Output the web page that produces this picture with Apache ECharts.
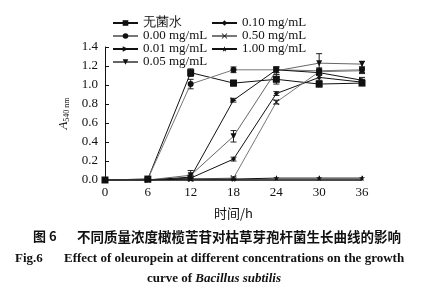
<!DOCTYPE html>
<html>
<head>
<meta charset="utf-8">
<script src="https://cdn.jsdelivr.net/npm/echarts@6/dist/echarts.min.js"></script>
<style>
html,body{margin:0;padding:0;background:#fff;}
#main{width:440px;height:301px;}
</style>
</head>
<body>
<div id="main"></div>
<script>
// 时间点 (h)
var hours = [0, 6, 12, 18, 24, 30, 36];
var names = ['无菌水', '0.00 mg/mL', '0.01 mg/mL', '0.05 mg/mL', '0.10 mg/mL', '0.50 mg/mL', '1.00 mg/mL'];

// A540 读数
var water = [0.00, 0.01, 1.13, 1.02, 1.06, 1.01, 1.02];
var c000  = [0.00, 0.01, 1.01, 1.16, 1.16, 1.15, 1.16];
var c001  = [0.00, 0.00, 0.03, 0.84, 1.16, 1.13, 1.05];
var c005  = [0.00, 0.00, 0.05, 0.46, 1.15, 1.23, 1.22];
var c010  = [0.00, 0.00, 0.02, 0.22, 0.91, 1.08, 1.03];
var c050  = [0.00, 0.00, 0.01, 0.02, 0.82, 1.14, 1.15];
var c100  = [0.00, 0.00, 0.01, 0.01, 0.02, 0.02, 0.02];

// 误差
var waterErr = [0, 0, 0.04, 0.03, 0.05, 0.03, 0.02];
var c000Err  = [0, 0, 0.05, 0.03, 0.03, 0.03, 0.03];
var c001Err  = [0, 0, 0.02, 0.02, 0.03, 0.03, 0.03];
var c005Err  = [0, 0, 0.05, 0.06, 0.04, 0.10, 0.03];
var c010Err  = [0, 0, 0.02, 0.02, 0.02, 0.03, 0.03];
var c050Err  = [0, 0, 0.01, 0.01, 0.02, 0.03, 0.03];
var c100Err  = [0, 0, 0, 0, 0, 0, 0];

var values = [water, c000, c001, c005, c010, c050, c100];
var errs = [waterErr, c000Err, c001Err, c005Err, c010Err, c050Err, c100Err];

var lineColors = ['#111', '#777', '#111', '#666', '#111', '#777', '#111'];
var xPath = 'path://M0,1L1,0L5,4L9,0L10,1L6,5L10,9L9,10L5,6L1,10L0,9L4,5Z';
var starPath = 'path://M5,0L6.2,3.6L10,3.6L7,5.9L8.1,9.5L5,7.3L1.9,9.5L3,5.9L0,3.6L3.8,3.6Z';
var symbols = ['rect', 'circle', 'triangle', 'triangle', 'diamond', xPath, starPath];
var symbolSizes = [7, 6, 6, 6, 5, 6, 6];
var symbolRotates = [0, 0, -90, 180, 0, 0, 0];

function pairs(arr){
    return hours.map(function(h, i){ return [h, arr[i]]; });
}

function renderErr(params, api){
    var x = api.value(0), y = api.value(1), e = api.value(2);
    var top = api.coord([x, y + e]);
    var bot = api.coord([x, y - e]);
    var w = 3;
    var st = {stroke: '#222', lineWidth: 1};
    return {
        type: 'group',
        children: [
            {type: 'line', shape: {x1: top[0], y1: top[1], x2: bot[0], y2: bot[1]}, style: st},
            {type: 'line', shape: {x1: top[0] - w, y1: top[1], x2: top[0] + w, y2: top[1]}, style: st},
            {type: 'line', shape: {x1: bot[0] - w, y1: bot[1], x2: bot[0] + w, y2: bot[1]}, style: st}
        ]
    };
}

var series = [];
for (var i = 0; i < names.length; i++){
    series.push({
        name: names[i],
        type: 'line',
        data: pairs(values[i]),
        symbol: symbols[i],
        symbolSize: symbolSizes[i],
        symbolRotate: symbolRotates[i],
        showAllSymbol: true,
        lineStyle: {color: lineColors[i], width: 1},
        itemStyle: {color: '#111'},
        z: 3
    });
    var errData = [];
    for (var j = 0; j < hours.length; j++){
        if (errs[i][j] > 0) errData.push([hours[j], values[i][j], errs[i][j]]);
    }
    series.push({
        name: 'err' + i,
        type: 'custom',
        renderItem: renderErr,
        data: errData,
        silent: true,
        z: 2
    });
}

var serif = 'Liberation Serif';
var legendBase = {
    orient: 'vertical',
    itemWidth: 25,
    itemHeight: 7,
    itemGap: 0,
    padding: 0,
    textStyle: {fontFamily: serif, fontSize: 13, color: '#111'}
};

var chart = echarts.init(document.getElementById('main'));
var option = {
    animation: false,
    backgroundColor: '#fff',
    legend: [
        echarts.util.extend({left: 112, top: 16.5, data: names.slice(0, 4)}, legendBase),
        echarts.util.extend({left: 211, top: 16.5, data: names.slice(4)}, legendBase)
    ],
    grid: {left: 105, right: 78, top: 47, bottom: 121},
    xAxis: {
        type: 'value',
        min: 0, max: 36, interval: 6,
        name: '时间/h',
        nameLocation: 'middle',
        nameGap: 27,
        nameTextStyle: {fontFamily: 'Noto Sans CJK SC', fontSize: 13, color: '#111'},
        axisLine: {lineStyle: {color: '#111', width: 1.5}},
        axisTick: {inside: true, length: 4, lineStyle: {color: '#111'}},
        axisLabel: {fontFamily: serif, fontSize: 13, color: '#111', margin: 6},
        splitLine: {show: false}
    },
    yAxis: {
        type: 'value',
        min: 0, max: 1.4, interval: 0.2,
        name: '{a|A}{b|540 nm}',
        nameLocation: 'middle',
        nameGap: 30,
        nameTextStyle: {
            rich: {
                a: {fontFamily: serif, fontStyle: 'italic', fontSize: 13, color: '#111'},
                b: {fontFamily: serif, fontSize: 8, color: '#111', padding: [6, 0, 0, 0]}
            }
        },
        axisLine: {show: true, lineStyle: {color: '#111', width: 1}},
        axisTick: {show: true, inside: true, length: 4, lineStyle: {color: '#111'}},
        axisLabel: {
            fontFamily: serif, fontSize: 13, color: '#111', margin: 7,
            formatter: function(v){ return v.toFixed(1); }
        },
        splitLine: {show: false}
    },
    graphic: [
        {type: 'text', left: 33, top: 230, style: {text: '图 6', font: 'bold 13px "Noto Sans CJK SC"', fill: '#111'}},
        {type: 'text', left: 77, top: 230, style: {text: '不同质量浓度橄榄苦苷对枯草芽孢杆菌生长曲线的影响', font: 'bold 13.5px "Noto Sans CJK SC"', fill: '#111'}},
        {type: 'text', left: 15, top: 252, style: {text: 'Fig.6', font: 'bold 13px "Liberation Serif"', fill: '#111'}},
        {type: 'text', left: 64, top: 252, style: {text: 'Effect of oleuropein at different concentrations on the growth', font: 'bold 13px "Liberation Serif"', fill: '#111'}},
        {type: 'text', left: 147, top: 272, style: {
            text: '{n|curve of }{i|Bacillus subtilis}',
            rich: {
                n: {font: 'bold 13px "Liberation Serif"', fill: '#111'},
                i: {font: 'italic bold 13px "Liberation Serif"', fill: '#111'}
            }
        }}
    ],
    series: series
};
chart.setOption(option);
</script>
</body>
</html>
